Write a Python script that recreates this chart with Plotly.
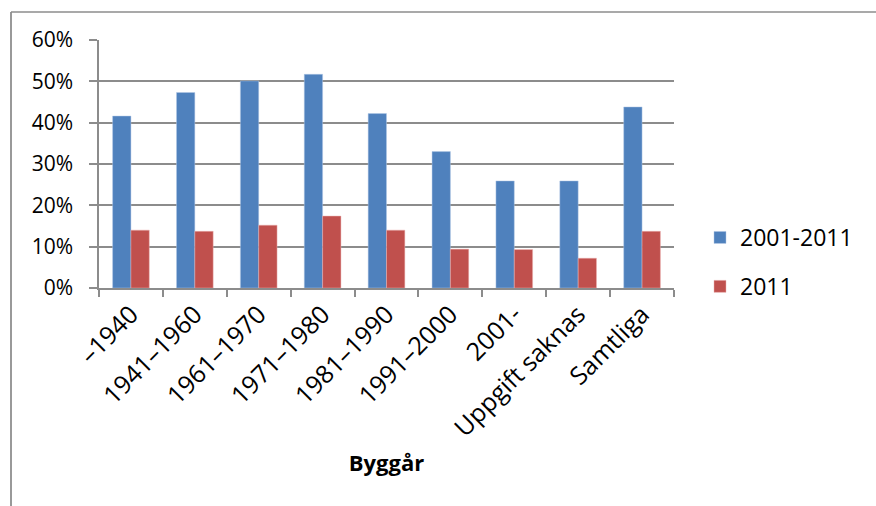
import plotly.graph_objects as go

# Byggår categories and shares for each period
categories = ["–1940", "1941–1960", "1961–1970", "1971–1980", "1981–1990",
              "1991–2000", "2001-", "Uppgift saknas", "Samtliga"]
share_2001_2011 = [0.416, 0.473, 0.501, 0.517, 0.422, 0.330, 0.259, 0.259, 0.438]
share_2011 = [0.140, 0.137, 0.152, 0.174, 0.140, 0.094, 0.093, 0.072, 0.137]
series_names = ["2001-2011", "2011"]
y_ticks = [0, 0.1, 0.2, 0.3, 0.4, 0.5, 0.6]

BLUE = "#4F81BD"
RED = "#C0504D"
GRID = "#8c8c8c"
FONT = "Open Sans"

W, H = 876, 506
ML, MR, MT, MB = 99, 202, 40, 218
PW, PH = W - ML - MR, H - MT - MB


def px_x(p):
    return (p - ML) / PW


def px_y(p):
    return (H - MB - p) / PH


fig = go.Figure()
fig.add_trace(go.Bar(
    x=categories, y=share_2001_2011, name=series_names[0], legendgroup="a",
    marker=dict(color=BLUE, line=dict(color="rgba(180,200,230,0.8)", width=0.6)),
))
fig.add_trace(go.Bar(
    x=categories, y=share_2011, name=series_names[1], legendgroup="b",
    marker=dict(color=RED, line=dict(color="rgba(235,180,180,0.8)", width=0.6)),
))

# chart frame: left and top border lines
fig.add_shape(type="line", xref="paper", yref="paper",
              x0=px_x(11), x1=px_x(11), y0=px_y(12), y1=px_y(510),
              line=dict(color="#999999", width=2))
fig.add_shape(type="line", xref="paper", yref="paper",
              x0=px_x(11), x1=px_x(880), y0=px_y(12), y1=px_y(12),
              line=dict(color="#8c8c8c", width=1.5))

fig.update_layout(
    width=W, height=H,
    margin=dict(l=ML, r=MR, t=MT, b=MB, autoexpand=False),
    paper_bgcolor="white", plot_bgcolor="white",
    barmode="group", bargap=0.426, bargroupgap=0,
    font=dict(family=FONT, color="black", size=20),
    legend=dict(
        x=px_x(700), y=px_y(262), xanchor="left", yanchor="middle",
        font=dict(size=23), tracegroupgap=16, traceorder="grouped",
        bgcolor="rgba(0,0,0,0)",
    ),
    xaxis=dict(
        type="category", tickangle=-45, tickson="boundaries",
        ticks="outside", ticklen=7, tickcolor=GRID, tickwidth=1.5,
        showline=True, linecolor=GRID, linewidth=1.5,
        showgrid=False, tickfont=dict(size=25), automargin=False,
        title=dict(text="<b>Byggår</b>", font=dict(size=22), standoff=14),
    ),
    yaxis=dict(
        range=[0, 0.6], tickvals=y_ticks, tickformat=".0%",
        ticks="outside", ticklen=8, tickcolor=GRID, tickwidth=1.5,
        ticklabelstandoff=12,
        showline=True, linecolor=GRID, linewidth=1.5,
        showgrid=True, gridcolor=GRID, gridwidth=1.5,
        zeroline=False, tickfont=dict(size=21), automargin=False,
    ),
)

fig.write_html("out.html")
